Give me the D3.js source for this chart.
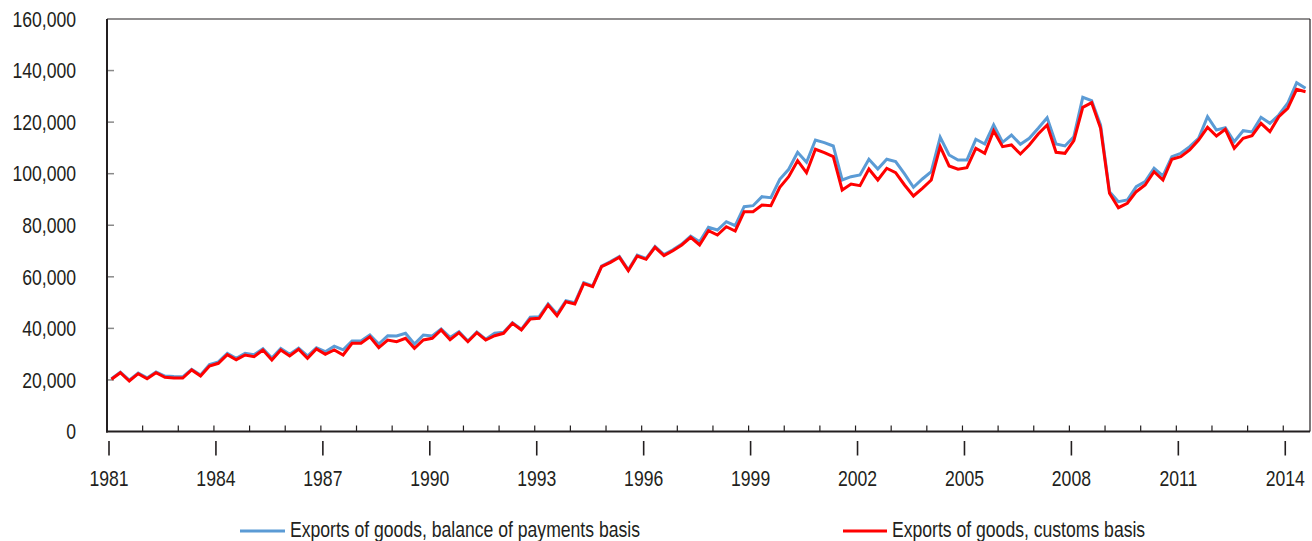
<!DOCTYPE html>
<html>
<head>
<meta charset="utf-8">
<script src="https://cdn.jsdelivr.net/npm/d3@7/dist/d3.min.js"></script>
<style>
  html, body { margin: 0; padding: 0; background: #fff; }
  svg text { font-family: "Liberation Sans", Arial, sans-serif; fill: #231f20; }
</style>
</head>
<body>
<svg id="chart" width="1312" height="541"></svg>
<script>
// ---- data ----
const startYear = 1981;
const quarterCount = 135; // 1981Q1 .. 2014Q3
const quarters = d3.range(quarterCount).map(i => (startYear + Math.floor(i / 4)) + "Q" + (i % 4 + 1));

const bopExports = [
  20500, 23000, 19900, 22700, 20800, 23100, 21500, 21300, 21200, 24100,
  21900, 26000, 27000, 30300, 28400, 30300, 29800, 32100, 28500, 32200,
  30000, 32300, 29290, 32500, 30960, 33100, 31700, 35100, 35100, 37430,
  33940, 37160, 37040, 38090, 33940, 37430, 37040, 39760, 36500, 38710,
  35100, 38600, 35770, 38090, 38480, 42200, 39640, 44300, 44530, 49460,
  45580, 50740, 49960, 57720, 56500, 64200, 65900, 67900, 62700, 68400,
  67100, 71800, 68600, 70500, 72700, 75800, 73630, 79210, 78160, 81380,
  79830, 87200, 87590, 91080, 90690, 97830, 101710, 108300, 104420, 113070,
  112030, 110750, 97560, 98840, 99500, 105590, 101820, 105590, 104660, 99890,
  94720, 97940, 100780, 114120, 107250, 105310, 105310, 113340, 111520, 118890,
  112180, 115010, 111400, 113730, 117610, 121720, 111520, 110750, 114360, 129630,
  128320, 118890, 93020, 89140, 89800, 94960, 96900, 102100, 99110, 106600,
  107910, 110480, 113730, 122110, 116950, 117850, 112410, 116680, 116180, 121880,
  119550, 122770, 127310, 135300, 133130
];

const customsExports = [
  20250, 22800, 19590, 22420, 20480, 22800, 21020, 20750, 20750, 23860,
  21530, 25410, 26450, 29800, 27850, 29670, 29020, 31610, 27730, 31610,
  29290, 31880, 28390, 32000, 29940, 31610, 29670, 34210, 34210, 36770,
  32510, 35490, 34830, 36150, 32270, 35490, 36150, 39400, 35600, 38330,
  34830, 38330, 35490, 37160, 38090, 41970, 39370, 43640, 43910, 49070,
  44920, 50350, 49460, 57350, 56170, 63930, 65630, 67570, 62380, 68080,
  66790, 71450, 68200, 70130, 72340, 75330, 72340, 77890, 76220, 79440,
  77770, 85260, 85260, 87860, 87590, 94720, 98840, 105040, 100390, 109460,
  108150, 106600, 93680, 96000, 95350, 101820, 97560, 102100, 100390, 95620,
  91350, 94340, 97560, 110480, 102990, 101710, 102330, 109850, 107910, 116680,
  110480, 111130, 107640, 111130, 115400, 118890, 108300, 107910, 112800, 125750,
  127540, 117610, 92400, 86810, 88520, 93020, 95620, 100780, 97560, 105590,
  106600, 109190, 113070, 118000, 114630, 117220, 109850, 113730, 114740, 119550,
  116290, 122110, 125370, 132740, 131810
];

const yTicks = [0, 20000, 40000, 60000, 80000, 100000, 120000, 140000, 160000];
const yearLabels = [1981, 1984, 1987, 1990, 1993, 1996, 1999, 2002, 2005, 2008, 2011, 2014];
const seriesNames = ["Exports of goods, balance of payments basis", "Exports of goods, customs basis"];
const seriesColors = ["#5b9bd5", "#ff0000"];

(function draw() {
  const svg = d3.select("#chart");
  const mLeft = 107, mRight = 1310, mTop = 19, mBottom = 431.5;
  const narrow = 0.80; // emulate a condensed face by horizontal scaling
  const fs = 22;

  const x = d3.scaleBand().domain(quarters).range([mLeft, mRight]).paddingInner(0).paddingOuter(0);
  const y = d3.scaleLinear().domain([0, 160000]).range([mBottom, mTop]);
  const xc = q => x(q) + x.bandwidth() / 2;
  const fmt = d3.format(",");
  const ink = "#231f20";
  const place = (px, py) => `translate(${px},${py}) scale(${narrow},1)`;

  // y tick labels
  svg.append("g").selectAll("text").data(yTicks).join("text")
    .attr("transform", d => place(76, y(d))).attr("dy", "0.35em")
    .attr("text-anchor", "end").attr("font-size", fs)
    .text(d => fmt(d));

  // y inner ticks (gray)
  svg.append("g").selectAll("line").data(yTicks.filter(d => d > 0 && d < 160000)).join("line")
    .attr("x1", mLeft).attr("x2", mLeft + 7)
    .attr("y1", d => y(d)).attr("y2", d => y(d))
    .attr("stroke", "#8a8a8a").attr("stroke-width", 1.5);

  // year small ticks on axis (each Q1 band start)
  const yearStarts = quarters.filter(q => q.endsWith("Q1") && q !== quarters[0]);
  svg.append("g").selectAll("line").data(yearStarts).join("line")
    .attr("x1", d => x(d)).attr("x2", d => x(d))
    .attr("y1", mBottom - 6).attr("y2", mBottom)
    .attr("stroke", ink).attr("stroke-width", 1.2);

  // series lines
  const line = d3.line().x((d, i) => xc(quarters[i])).y(d => y(d));
  [bopExports, customsExports].forEach((s, k) => {
    svg.append("path").datum(s)
      .attr("fill", "none").attr("stroke", seriesColors[k])
      .attr("stroke-width", 3).attr("stroke-linejoin", "miter")
      .attr("d", line);
  });

  // frame
  svg.append("line").attr("x1", mLeft).attr("x2", mRight).attr("y1", mTop).attr("y2", mTop)
    .attr("stroke", ink).attr("stroke-width", 1.2);
  svg.append("line").attr("x1", mRight).attr("x2", mRight).attr("y1", mTop).attr("y2", mBottom)
    .attr("stroke", ink).attr("stroke-width", 1.2);
  svg.append("line").attr("x1", mLeft).attr("x2", mLeft).attr("y1", mTop).attr("y2", mBottom + 1)
    .attr("stroke", ink).attr("stroke-width", 2);
  svg.append("line").attr("x1", mLeft - 1).attr("x2", mRight).attr("y1", mBottom).attr("y2", mBottom)
    .attr("stroke", ink).attr("stroke-width", 2.2);

  // year label ticks and labels
  const labelX = yr => x(yr + "Q1") + 2;
  svg.append("g").selectAll("line").data(yearLabels).join("line")
    .attr("x1", labelX).attr("x2", labelX)
    .attr("y1", 441).attr("y2", 455.5)
    .attr("stroke", ink).attr("stroke-width", 1.6);
  svg.append("g").selectAll("text").data(yearLabels).join("text")
    .attr("transform", d => place(labelX(d), 478)).attr("dy", "0.35em")
    .attr("text-anchor", "middle").attr("font-size", fs)
    .text(d => d);

  // legend
  const legendPos = [[240, 290], [843, 892]];
  seriesNames.forEach((name, k) => {
    svg.append("line")
      .attr("x1", legendPos[k][0]).attr("x2", legendPos[k][1] - 5)
      .attr("y1", 531).attr("y2", 531)
      .attr("stroke", seriesColors[k]).attr("stroke-width", 3);
    svg.append("text")
      .attr("transform", place(legendPos[k][1], 529)).attr("dy", "0.35em")
      .attr("font-size", fs)
      .text(name);
  });
})();
</script>
</body>
</html>
